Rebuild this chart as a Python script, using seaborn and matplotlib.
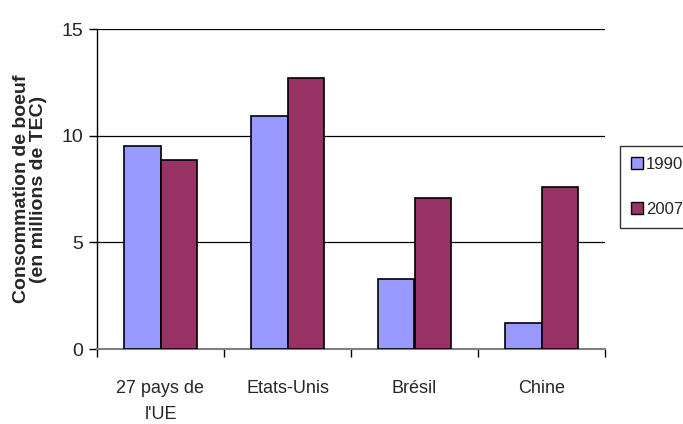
import matplotlib
matplotlib.use("Agg")
import matplotlib.pyplot as plt
import seaborn as sns
import pandas as pd
from matplotlib.patches import Patch
from matplotlib.ticker import FixedLocator

# Consommation de boeuf (millions de TEC)
categories = ["27 pays de\nl'UE", "Etats-Unis", "Brésil", "Chine"]
years = ["1990", "2007"]
values_1990 = [9.5, 10.9, 3.3, 1.2]
values_2007 = [8.85, 12.7, 7.1, 7.6]
y_ticks = [0, 5, 10, 15]
colors = {"1990": "#9999FF", "2007": "#993366"}

df = pd.DataFrame({
    "pays": categories * 2,
    "annee": [years[0]] * 4 + [years[1]] * 4,
    "valeur": values_1990 + values_2007,
})

sns.set_style("white")
plt.rcParams["font.family"] = ["Liberation Sans", "DejaVu Sans"]

fig = plt.figure(figsize=(6.83, 4.24), dpi=100)
ax = fig.add_axes([97 / 683, 75 / 424, 508 / 683, 320 / 424])

sns.barplot(data=df, x="pays", y="valeur", hue="annee", palette=colors,
            width=0.58, gap=0, edgecolor="black", linewidth=1.2,
            saturation=1, legend=False, ax=ax, zorder=3)

ax.set_xlim(-0.5, 3.5)
ax.set_ylim(0, 15)
ax.set_yticks(y_ticks)
ax.yaxis.grid(True, color="black", linewidth=0.9, zorder=0)
ax.set_axisbelow(True)
for s in ["top", "right"]:
    ax.spines[s].set_visible(False)
ax.spines["left"].set_color("black")
ax.spines["left"].set_linewidth(1.0)
ax.spines["bottom"].set_color("#808080")
ax.spines["bottom"].set_linewidth(1.5)

ax.tick_params(axis="y", direction="out", length=6, width=1, color="black",
               labelsize=14, pad=4, left=True)
ax.tick_params(axis="x", which="major", length=0, labelsize=13, pad=22)
ax.xaxis.set_minor_locator(FixedLocator([-0.5, 0.5, 1.5, 2.5, 3.5]))
ax.tick_params(axis="x", which="minor", direction="out", length=6, width=1,
               color="black", bottom=True)
for lbl in ax.get_xticklabels():
    lbl.set_linespacing(1.7)

ax.set_xlabel("")
ax.set_ylabel("Consommation de boeuf\n(en millions de TEC)",
              fontsize=14, fontweight="bold", labelpad=10, linespacing=1.0)

handles = [Patch(facecolor=colors[y], edgecolor="black", linewidth=1) for y in years]
leg = fig.legend(handles, years, loc="upper left",
                 bbox_to_anchor=(620 / 683, 1 - 146 / 424),
                 frameon=True, fancybox=False, edgecolor="black",
                 fontsize=12, handlelength=0.7, handleheight=0.7,
                 handletextpad=0.2, labelspacing=1.8, borderpad=0.65,
                 borderaxespad=0)
leg.get_frame().set_linewidth(1.0)

fig.savefig("out.png", dpi=100)
